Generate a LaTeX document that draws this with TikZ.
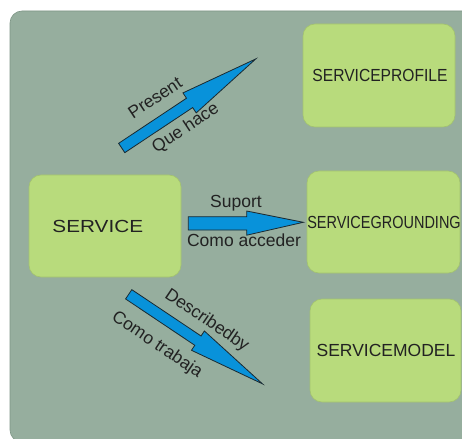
\documentclass[tikz,border=0pt]{standalone}
\usepackage{fontspec}
\usepackage{graphicx}
\setmainfont{Liberation Sans}
\definecolor{bgc}{HTML}{96AE9E}
\definecolor{bgline}{HTML}{7E9686}
\definecolor{boxc}{HTML}{B8DB7C}
\definecolor{boxline}{HTML}{A3C36E}
\definecolor{arrc}{HTML}{0892DA}
\definecolor{arrline}{HTML}{1B2A30}
\definecolor{txt}{HTML}{222222}
\tikzset{
  box/.style={draw=boxline, line width=0.6pt, fill=boxc, rounded corners=12pt},
  lbl/.style={inner sep=0pt, text=txt, font=\fontsize{17.5}{20}\selectfont},
  blockarrow/.style={draw=arrline, line width=0.8pt, fill=arrc, line join=miter},
}
\begin{document}
\begin{tikzpicture}[x=1pt,y=-1pt]
\useasboundingbox (0,0) rectangle (462,438);
% background
\fill[white] (0,0) rectangle (462,438);
\draw[bgline, fill=bgc, line width=0.6pt, rounded corners=12pt] (10,11) rectangle (480,442);
% boxes
\draw[box] (303,24) rectangle (455,127);
\draw[box] (29,175) rectangle (181,277);
\draw[box] (307,171) rectangle (460,273);
\draw[box] (310,299) rectangle (461,402);
\node (profile) [lbl, anchor=base] at (380,81.7) {\scalebox{0.892}[1]{SERVICEPROFILE}};
\node (service) [lbl, anchor=base] at (97.8,232.3) {\scalebox{1.185}[1]{SERVICE}};
\node (grounding) [lbl, anchor=base] at (384,228.3) {\scalebox{0.828}[1]{SERVICEGROUNDING}};
\node (model) [lbl, anchor=base] at (386,356.7) {SERVICEMODEL};
% arrow coordinates
\coordinate (upT) at (121.7,148);
\coordinate (midT) at (188.3,223.3);
\coordinate (lowT) at (128.7,294.3);
% upper arrow
\begin{scope}[shift={(upT)}, rotate=33.6]
\draw[blockarrow] (0,-5.6) -- (81.5,-5.6) -- (81.5,-12) -- (161,0) -- (81.5,12) -- (81.5,5.6) -- (0,5.6) -- cycle;
\end{scope}
% middle arrow
\begin{scope}[shift={(midT)}]
\draw[blockarrow] (0,-6.6) -- (58.4,-6.6) -- (58.4,-12.3) -- (115,-1) -- (58.4,11.9) -- (58.4,6.7) -- (0,6.7) -- cycle;
\end{scope}
% lower arrow
\begin{scope}[shift={(lowT)}, rotate=-33.8]
\draw[blockarrow] (0,-5.6) -- (83.3,-5.6) -- (83.3,-11.6) -- (161,0) -- (83.3,11.6) -- (83.3,5.6) -- (0,5.6) -- cycle;
\end{scope}
% labels
\node (present) [lbl, rotate=33.5] at (155,97.7) {Present};
\node (quehace) [lbl, rotate=33.5] at (185.7,128.3) {Que hace};
\node (suport) [lbl, anchor=base] at (236,207.3) {Suport};
\node (acceder) [lbl, anchor=base] at (244,246.7) {Como acceder};
\node (describedby) [lbl, rotate=-34] at (206.7,320.7) {Describedby};
\node (trabaja) [lbl, rotate=-34] at (157,345) {Como trabaja};
\end{tikzpicture}
\end{document}
